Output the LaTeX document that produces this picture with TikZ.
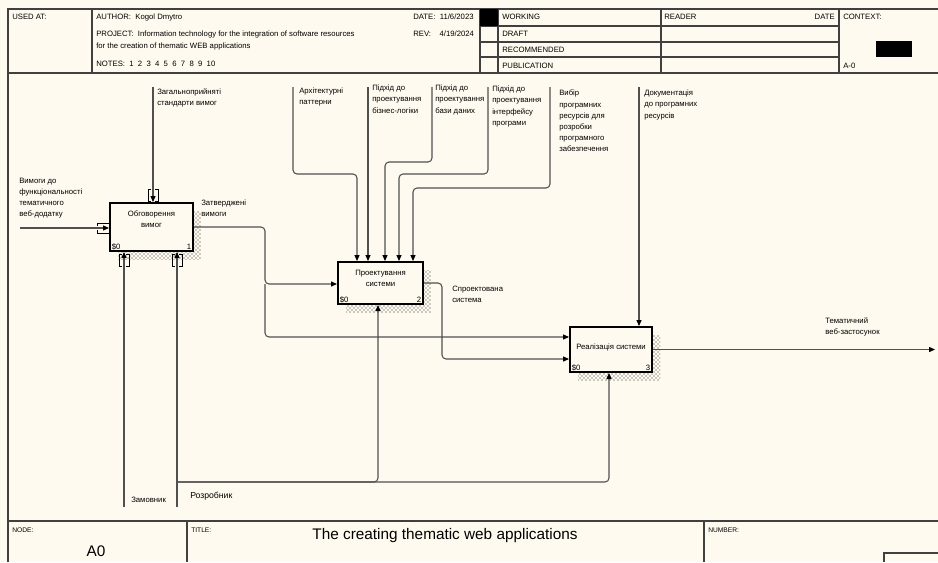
\documentclass[tikz,border=0pt]{standalone}
\usepackage{fontspec}
\setmainfont{Liberation Sans}
\usetikzlibrary{arrows.meta, positioning, calc, shadows, patterns}
\definecolor{paper}{HTML}{FFFAEF}
\definecolor{wire}{HTML}{505050}

\begin{document}
\begin{tikzpicture}[x=0.75pt, y=-0.75pt,
    every node/.style={font=\fontsize{5.8}{8.3}\selectfont, inner sep=0pt},
    txt/.style={anchor=north west, align=left},
    hd/.style={anchor=west},
    frame/.style={draw=black!75, line width=0.9pt},
    func/.style={draw=black, line width=1.5pt, fill=paper,
      general shadow={shadow xshift=6pt, shadow yshift=-6pt,
        pattern=crosshatch dots, pattern color=black!85}},
    fname/.style={anchor=north, align=center, yshift=-6.5pt},
    fnum/.style={anchor=south west, xshift=2pt, yshift=1.5pt},
    fid/.style={anchor=south east, xshift=-2pt, yshift=1.5pt},
    arr/.style={draw=wire, line width=0.8pt, rounded corners=3pt,
      -{Triangle[length=4.5pt, width=3.8pt, color=black]}},
    tunv/.pic={\draw[black, line width=0.6pt]
      (-2,-6) -- (-5,-6) -- (-5,6) -- (-2,6)
      (2,-6) -- (5,-6) -- (5,6) -- (2,6);},
    tunh/.pic={\draw[black, line width=0.6pt]
      (-6,-2) -- (-6,-5) -- (6,-5) -- (6,-2)
      (-6,2) -- (-6,5) -- (6,5) -- (6,2);}
  ]
  \useasboundingbox (0,0) rectangle (938,562);
  \fill[paper] (0,0) rectangle (938,562);

  % header
  \draw[frame] (8,562) -- (8,9) -- (938,9);
  \draw[frame] (8,73) -- (938,73);
  \draw[frame] (92,9) -- (92,73) (480,9) -- (480,73) (498,9) -- (498,73)
    (661,9) -- (661,73) (839,9) -- (839,73);
  \draw[frame] (480,26) -- (839,26) (480,42) -- (839,42) (480,57) -- (839,57);
  \fill (480,9) rectangle (498,26);
  \fill (876,41) rectangle (912,57);
  \node[hd] (usedat) at (12,17) {USED AT:};
  \node[hd] (author) at (96,17) {AUTHOR:\ \ Kogol Dmytro};
  \node[hd] (project) at (96,34) {PROJECT:\ \ Information technology for the integration of software resources};
  \node[hd] (project2) at (96,46) {for the creation of thematic WEB applications};
  \node[hd] (notes) at (96,64) {NOTES:\ \ 1\ \ 2\ \ 3\ \ 4\ \ 5\ \ 6\ \ 7\ \ 8\ \ 9\ \ 10};
  \node[hd] (date) at (413,17) {DATE:\ \ 11/6/2023};
  \node[hd] (rev) at (413,34) {REV:\ \ \ \ 4/19/2024};
  \node[hd] (working) at (502,17) {WORKING};
  \node[hd] (draft) at (502,34) {DRAFT};
  \node[hd] (recom) at (502,50) {RECOMMENDED};
  \node[hd] (publ) at (502,66) {PUBLICATION};
  \node[hd] (reader) at (664,17) {READER};
  \node[anchor=east] (rdate) at (835,17) {DATE};
  \node[hd] (context) at (843,17) {CONTEXT:};
  \node[hd] (ctxnode) at (843,66) {A-0};

  % footer
  \draw[frame] (8,521) -- (938,521) (187,521) -- (187,562) (704,521) -- (704,562);
  \draw[frame] (884,562) -- (884,553) -- (938,553);
  \node[hd, font=\fontsize{5}{6}\selectfont] (nodehd) at (12,530) {NODE:};
  \node[font=\fontsize{11.5}{13}\selectfont] (nodeid) at (96,551) {A0};
  \node[hd, font=\fontsize{5}{6}\selectfont] (titlehd) at (191,530) {TITLE:};
  \node[font=\fontsize{11.5}{13}\selectfont] (title) at (445,536) {The creating thematic web applications};
  \node[hd, font=\fontsize{5}{6}\selectfont] (numhd) at (708,530) {NUMBER:};

  % functions
  \node[func, minimum width=62.25pt, minimum height=36pt,
    label={[fname]north:Обговорення\\вимог},
    label={[fnum]south west:\$0}, label={[fid]south east:1}] (b1) at (151.5,227) {};
  \node[func, minimum width=63.75pt, minimum height=31.5pt,
    label={[fname]north:Проектування\\системи},
    label={[fnum]south west:\$0}, label={[fid]south east:2}] (b2) at (380.5,283) {};
  \node[func, minimum width=61.5pt, minimum height=33.75pt,
    label={[fname, yshift=-7pt]north:Реалізація системи},
    label={[fnum]south west:\$0}, label={[fid]south east:3}] (b3) at (611,349.5) {};

  % inputs and outputs
  \coordinate (in1) at (20,228);
  \draw[arr] (in1) -- (in1 -| b1.west);
  \node[txt] (lin1) at (19,178) {Вимоги до\\функціональності\\тематичного\\веб-додатку};
  \coordinate (j1) at (265,284);
  \draw[arr] (b1.east) -| (j1) -- (j1 -| b2.west);
  \draw[arr] (j1) |- ($(b3.west)+(0,-12.5)$);
  \node[txt] (lout1) at (201,200) {Затверджені\\вимоги};
  \draw[arr] (b2.east) -- ++(18,0) |- ($(b3.west)+(0,9.5)$);
  \node[txt] (lout2) at (452,286) {Спроектована\\система};
  \coordinate (out3) at (935,349.5);
  \draw[arr] (b3.east) -- (out3);
  \node[txt] (lout3) at (825,317) {Тематичний\\веб-застосунок};

  % controls
  \coordinate (c1) at (153,87);
  \draw[arr] (c1) -- (c1 |- b1.north);
  \node[txt] (lc1) at (157,88) {Загальноприйняті\\стандарти вимог};
  \coordinate (ca) at (293,87);
  \coordinate (cb) at (368,87);
  \coordinate (cc) at (432,87);
  \coordinate (cd) at (488,87);
  \coordinate (ce) at (550,87);
  \draw[arr] (cb) -- (cb |- b2.north);
  \foreach \c/\h/\dx in {ca/174/-23.5, cc/162/4.5, cd/174/18.5, ce/188/32.5}
    \draw[arr] (\c) -- (\c |- 0,\h) -| ($(b2.north)+(\dx,0)$);
  \node[txt] (lca) at (299,88) {Архітектурні\\паттерни};
  \node[txt] (lcb) at (372,85) {Підхід до\\проектування\\бізнес-логіки};
  \node[txt] (lcc) at (435,85) {Підхід до\\проектування\\бази даних};
  \node[txt] (lcd) at (492,86) {Підхід до\\проектування\\інтерфейсу\\програми};
  \node[txt] (lce) at (559,90) {Вибір\\програмних\\ресурсів для\\розробки\\програмного\\забезпечення};
  \coordinate (c3) at (639,87);
  \draw[arr] (c3) -- (c3 |- b3.north);
  \node[txt] (lc3) at (644,90) {Документація\\до програмних\\ресурсів};

  % mechanisms
  \coordinate (m1) at (124,507);
  \coordinate (m2) at (177,507);
  \coordinate (j2) at (177,482);
  \draw[arr] (m1) -- (m1 |- b1.south);
  \draw[arr] (m2) -- (m2 |- b1.south);
  \draw[arr] (j2) -| ($(b2.south)+(-2.5,0)$);
  \draw[arr] (j2) -| ($(b3.south)+(-2,0)$);
  \node[txt] (lm1) at (131,497) {Замовник};
  \node[txt, font=\fontsize{6.5}{8}\selectfont] (lm2) at (190,492) {Розробник};

  % tunnels
  \pic at ($(in1 -| b1.west)+(-6,0)$) {tunh};
  \pic at ($(c1 |- b1.north)+(0,-7)$) {tunv};
  \pic at ($(m1 |- b1.south)+(0,8)$) {tunv};
  \pic at ($(m2 |- b1.south)+(0,8)$) {tunv};
\end{tikzpicture}
\end{document}
